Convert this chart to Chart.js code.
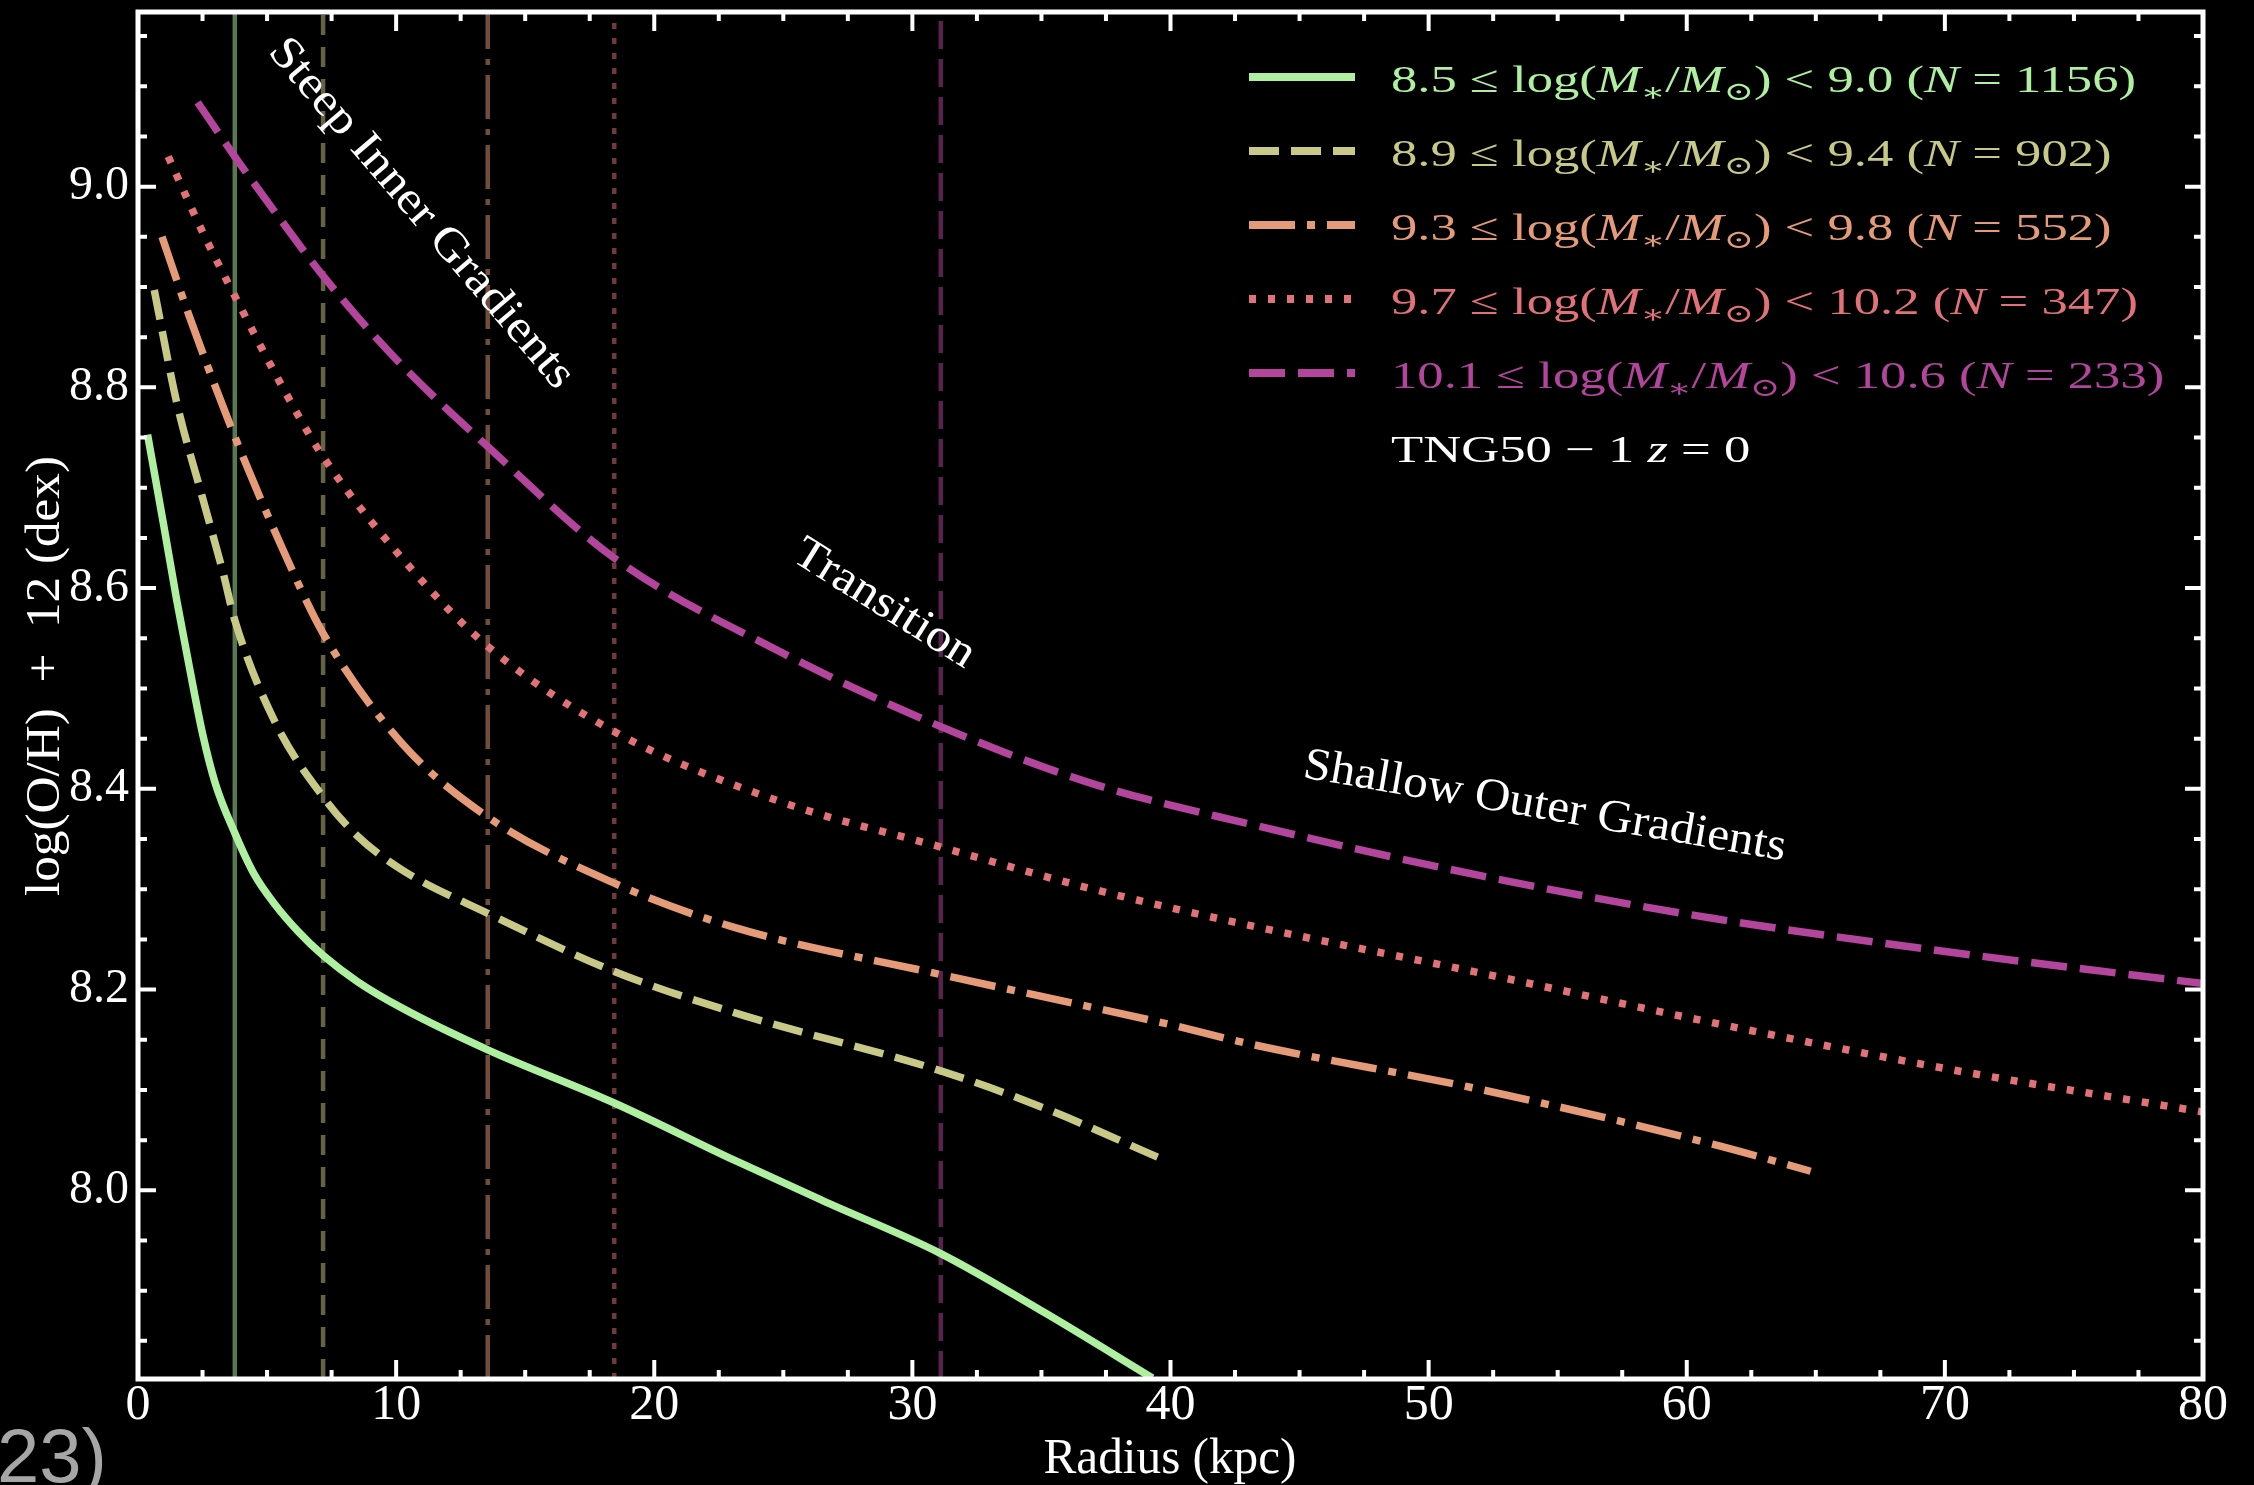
<!DOCTYPE html>
<html>
<head>
<meta charset="utf-8">
<title>Metallicity gradients – TNG50-1 z=0</title>
<script src="https://cdn.jsdelivr.net/npm/chart.js@4.4.1/dist/chart.umd.min.js"></script>
<style>
  html, body { margin: 0; padding: 0; background: #000; overflow: hidden; }
  #wrap { width: 2254px; height: 1485px; }
</style>
</head>
<body>
<div id="wrap"><canvas id="gradientChart" width="2254" height="1485"></canvas></div>
<script>
// ---- values ----
const massLow = ['8.5', '8.9', '9.3', '9.7', '10.1'];
const massHigh = ['9.0', '9.4', '9.8', '10.2', '10.6'];
const galaxyCounts = [1156, 902, 552, 347, 233];

// radius (kpc) / log(O/H)+12 per stellar-mass bin
const radiusBin1 = [0.37, 1.0, 1.5, 2.0, 2.5, 3.0, 3.75, 4.5, 5.3, 6.2, 7.17, 8.5, 10.2, 13.55, 18.45, 23.1, 26.5, 31.1, 35.2, 39.3];
const ohBin1 = [8.753, 8.662, 8.588, 8.520, 8.455, 8.405, 8.356, 8.315, 8.285, 8.258, 8.234, 8.208, 8.182, 8.140, 8.087, 8.030, 7.990, 7.937, 7.877, 7.813];

const radiusBin2 = [0.63, 1.5, 2.5, 3.3, 3.75, 5.34, 7.17, 8.5, 10.24, 13.55, 18.45, 23.1, 31.1, 35.2, 39.5];
const ohBin2 = [8.897, 8.785, 8.690, 8.615, 8.568, 8.465, 8.392, 8.353, 8.319, 8.276, 8.218, 8.177, 8.119, 8.081, 8.033];

const radiusBin3 = [0.93, 2.0, 3.75, 5.5, 7.17, 10.24, 13.55, 18.45, 23.1, 31.1, 40.0, 43.05, 52.1, 61.0, 64.8];
const ohBin3 = [8.950, 8.870, 8.751, 8.645, 8.555, 8.445, 8.372, 8.306, 8.262, 8.215, 8.165, 8.146, 8.100, 8.046, 8.019];

const radiusBin4 = [1.17, 2.5, 3.75, 5.5, 7.17, 10.87, 13.55, 18.45, 24.8, 31.1, 37.0, 43.05, 52.1, 61.0, 70.3, 80.0];
const ohBin4 = [9.030, 8.955, 8.891, 8.805, 8.731, 8.611, 8.542, 8.457, 8.388, 8.342, 8.300, 8.264, 8.216, 8.167, 8.120, 8.078];

const radiusBin5 = [2.31, 3.75, 5.5, 7.17, 10.0, 13.55, 18.45, 25.0, 31.1, 37.0, 43.05, 52.1, 61.0, 70.3, 80.0];
const ohBin5 = [9.084, 9.030, 8.968, 8.911, 8.828, 8.741, 8.630, 8.535, 8.462, 8.405, 8.365, 8.313, 8.271, 8.237, 8.206];

// transition radius of each bin (vertical lines)
const breakRadii = [3.75, 7.17, 13.55, 18.45, 31.1];

const xTickValues = [0, 10, 20, 30, 40, 50, 60, 70, 80];
const yTickValues = [8.0, 8.2, 8.4, 8.6, 8.8, 9.0];
const xRange = [0, 80];
const yRange = [7.812, 9.174];

const regionLabels = ['Steep Inner Gradients', 'Transition', 'Shallow Outer Gradients'];

// ---- styling ----
const binColors = ['#aef0a0', '#c8c887', '#e59a78', '#e27278', '#b4459c'];
const binDashes = [[], [30, 12], [46, 12, 8, 12], [7, 12], [36, 13]];
const breakDashes = [[], [20, 12], [44, 10, 6, 10], [6, 9], [28, 10]];

const radii = [radiusBin1, radiusBin2, radiusBin3, radiusBin4, radiusBin5];
const abundances = [ohBin1, ohBin2, ohBin3, ohBin4, ohBin5];

function withAlpha(hex, a) {
  const n = parseInt(hex.slice(1), 16);
  return `rgba(${(n >> 16) & 255}, ${(n >> 8) & 255}, ${n & 255}, ${a})`;
}

const curveSets = radii.map((r, i) => ({
  label: `${massLow[i]}-${massHigh[i]}`,
  data: r.map((x, j) => ({ x: x, y: abundances[i][j] })),
  borderColor: binColors[i],
  borderWidth: 7.5,
  borderDash: binDashes[i],
  borderCapStyle: 'butt',
  cubicInterpolationMode: 'monotone',
  pointRadius: 0,
  fill: false,
}));

const breakSets = breakRadii.map((r, i) => ({
  label: `break ${i}`,
  data: [{ x: r, y: yRange[0] }, { x: r, y: yRange[1] }],
  borderColor: withAlpha(binColors[i], 0.5),
  borderWidth: 4.5,
  borderDash: breakDashes[i],
  borderCapStyle: 'butt',
  pointRadius: 0,
  fill: false,
}));

// text squeezed/stretched to a target length along its direction
function fitText(ctx, text, x, y, targetWidth, angleDeg) {
  const natural = ctx.measureText(text).width;
  ctx.save();
  ctx.translate(x, y);
  ctx.rotate((angleDeg || 0) * Math.PI / 180);
  ctx.scale(targetWidth ? targetWidth / natural : 1, 1);
  ctx.fillText(text, 0, 0);
  ctx.restore();
}

const legendFonts = {
  roman: '38px "Liberation Serif"',
  italic: 'italic 38px "Liberation Serif"',
  sub: '26px "DejaVu Serif"',
};

function legendRuns(i) {
  return [
    { text: `${massLow[i]} ≤ log(`, style: 'roman' },
    { text: 'M', style: 'italic' },
    { text: '∗', style: 'sub', dy: 9 },
    { text: '/', style: 'roman' },
    { text: 'M', style: 'italic' },
    { text: '⊙', style: 'sub', dy: 8 },
    { text: `) < ${massHigh[i]} (`, style: 'roman' },
    { text: 'N', style: 'italic' },
    { text: ` = ${galaxyCounts[i]})`, style: 'roman' },
  ];
}

function runsWidth(ctx, runs) {
  return runs.reduce((w, r) => {
    ctx.font = legendFonts[r.style];
    return w + ctx.measureText(r.text).width;
  }, 0);
}

function drawRuns(ctx, runs, x, baseline, stretch, color) {
  ctx.save();
  ctx.translate(x, baseline);
  ctx.scale(stretch, 1);
  ctx.fillStyle = color;
  ctx.textBaseline = 'alphabetic';
  ctx.textAlign = 'left';
  let cx = 0;
  runs.forEach((r) => {
    ctx.font = legendFonts[r.style];
    ctx.fillText(r.text, cx, r.dy || 0);
    cx += ctx.measureText(r.text).width;
  });
  ctx.restore();
}

/**
 * Frame with inward ticks on all four sides
 */
const frameTicks = {
  id: 'frameTicks',
  afterDatasetsDraw(chart) {
    const { ctx, chartArea: a, scales } = chart;
    const xs = scales.x;
    const ys = scales.y;
    ctx.save();
    ctx.strokeStyle = '#ffffff';
    ctx.lineWidth = 4;
    ctx.setLineDash([]);
    ctx.beginPath();
    for (let v = xRange[0]; v <= xRange[1] + 1e-9; v += 2.5) {
      const len = Math.abs(v % 10) < 1e-9 ? 19 : 9;
      const px = xs.getPixelForValue(v);
      ctx.moveTo(px, a.bottom); ctx.lineTo(px, a.bottom - len);
      ctx.moveTo(px, a.top); ctx.lineTo(px, a.top + len);
    }
    for (let v = 7.85; v <= yRange[1]; v += 0.05) {
      const isMajor = yTickValues.some((t) => Math.abs(t - v) < 1e-6);
      const len = isMajor ? 18 : 9;
      const py = ys.getPixelForValue(v);
      ctx.moveTo(a.left, py); ctx.lineTo(a.left + len, py);
      ctx.moveTo(a.right, py); ctx.lineTo(a.right - len, py);
    }
    ctx.stroke();
    ctx.lineWidth = 5;
    ctx.strokeRect(a.left, a.top, a.right - a.left, a.bottom - a.top);
    ctx.restore();
  },
};

/**
 * Legend, region notes, axis titles
 */
const annotations = {
  id: 'annotations',
  afterDraw(chart) {
    const { ctx, scales } = chart;
    const xs = scales.x;
    const ys = scales.y;
    ctx.save();

    // legend samples + labels
    const stretch = 745 / runsWidth(ctx, legendRuns(0));
    binColors.forEach((c, i) => {
      const yLine = 77 + 74 * i;
      ctx.strokeStyle = c;
      ctx.lineWidth = 8;
      ctx.lineCap = 'butt';
      ctx.setLineDash(binDashes[i]);
      ctx.beginPath();
      ctx.moveTo(1249, yLine);
      ctx.lineTo(1355, yLine);
      ctx.stroke();
      drawRuns(ctx, legendRuns(i), 1391, 92 + 74 * i, stretch, c);
    });
    ctx.setLineDash([]);
    drawRuns(ctx, [
      { text: 'TNG50 − 1 ', style: 'roman' },
      { text: 'z', style: 'italic' },
      { text: ' = 0', style: 'roman' },
    ], 1391, 92 + 74 * 5, stretch, '#ffffff');

    // region notes, anchored in data coordinates
    ctx.fillStyle = '#ffffff';
    ctx.font = '46px "Liberation Serif"';
    ctx.textAlign = 'center';
    ctx.textBaseline = 'middle';
    fitText(ctx, regionLabels[0], xs.getPixelForValue(10.96), ys.getPixelForValue(8.973), 446, 49.5);
    fitText(ctx, regionLabels[1], xs.getPixelForValue(28.9), ys.getPixelForValue(8.584), 206, 32);
    fitText(ctx, regionLabels[2], xs.getPixelForValue(54.5), ys.getPixelForValue(8.382), 489, 9.8);

    // axis titles
    ctx.font = '50px "Liberation Serif"';
    ctx.textBaseline = 'alphabetic';
    fitText(ctx, 'Radius (kpc)', 1170, 1473, 253, 0);
    ctx.font = '48px "Liberation Serif"';
    ctx.textBaseline = 'middle';
    fitText(ctx, 'log(O/H)  +  12 (dex)', 46, 676, 440, -90);

    // clipped caption fragment at the bottom-left of the frame
    ctx.fillStyle = '#a6a6a6';
    ctx.font = '76px "Liberation Sans"';
    ctx.textAlign = 'left';
    ctx.textBaseline = 'alphabetic';
    ctx.fillText('23)', -3, 1482);

    ctx.restore();
  },
};

const canvas = document.getElementById('gradientChart');

new Chart(canvas, {
  type: 'line',
  data: { datasets: [...curveSets, ...breakSets] },
  options: {
    responsive: false,
    animation: false,
    events: [],
    layout: { padding: { top: 12, right: 51, bottom: 0, left: 0 } },
    plugins: {
      legend: { display: false },
      tooltip: { enabled: false },
    },
    scales: {
      x: {
        type: 'linear',
        min: xRange[0],
        max: xRange[1],
        grid: { display: false, drawTicks: false },
        border: { display: false },
        afterBuildTicks: (s) => { s.ticks = xTickValues.map((v) => ({ value: v })); },
        afterFit: (s) => {
          s.height = 106;
          s.paddingLeft = 0;
          s.paddingRight = 0;
        },
        ticks: {
          color: '#ffffff',
          font: { family: 'Liberation Serif', size: 50, lineHeight: 1 },
          padding: 2,
          maxRotation: 0,
          autoSkip: false,
        },
      },
      y: {
        type: 'linear',
        min: yRange[0],
        max: yRange[1],
        grid: { display: false, drawTicks: false },
        border: { display: false },
        afterBuildTicks: (s) => { s.ticks = yTickValues.map((v) => ({ value: v })); },
        afterFit: (s) => {
          s.width = 138;
          s.paddingTop = 0;
          s.paddingBottom = 0;
        },
        ticks: {
          color: '#ffffff',
          font: { family: 'Liberation Serif', size: 48 },
          padding: 9,
          callback: (v) => Number(v).toFixed(1),
        },
      },
    },
  },
  plugins: [frameTicks, annotations],
});
</script>
</body>
</html>
